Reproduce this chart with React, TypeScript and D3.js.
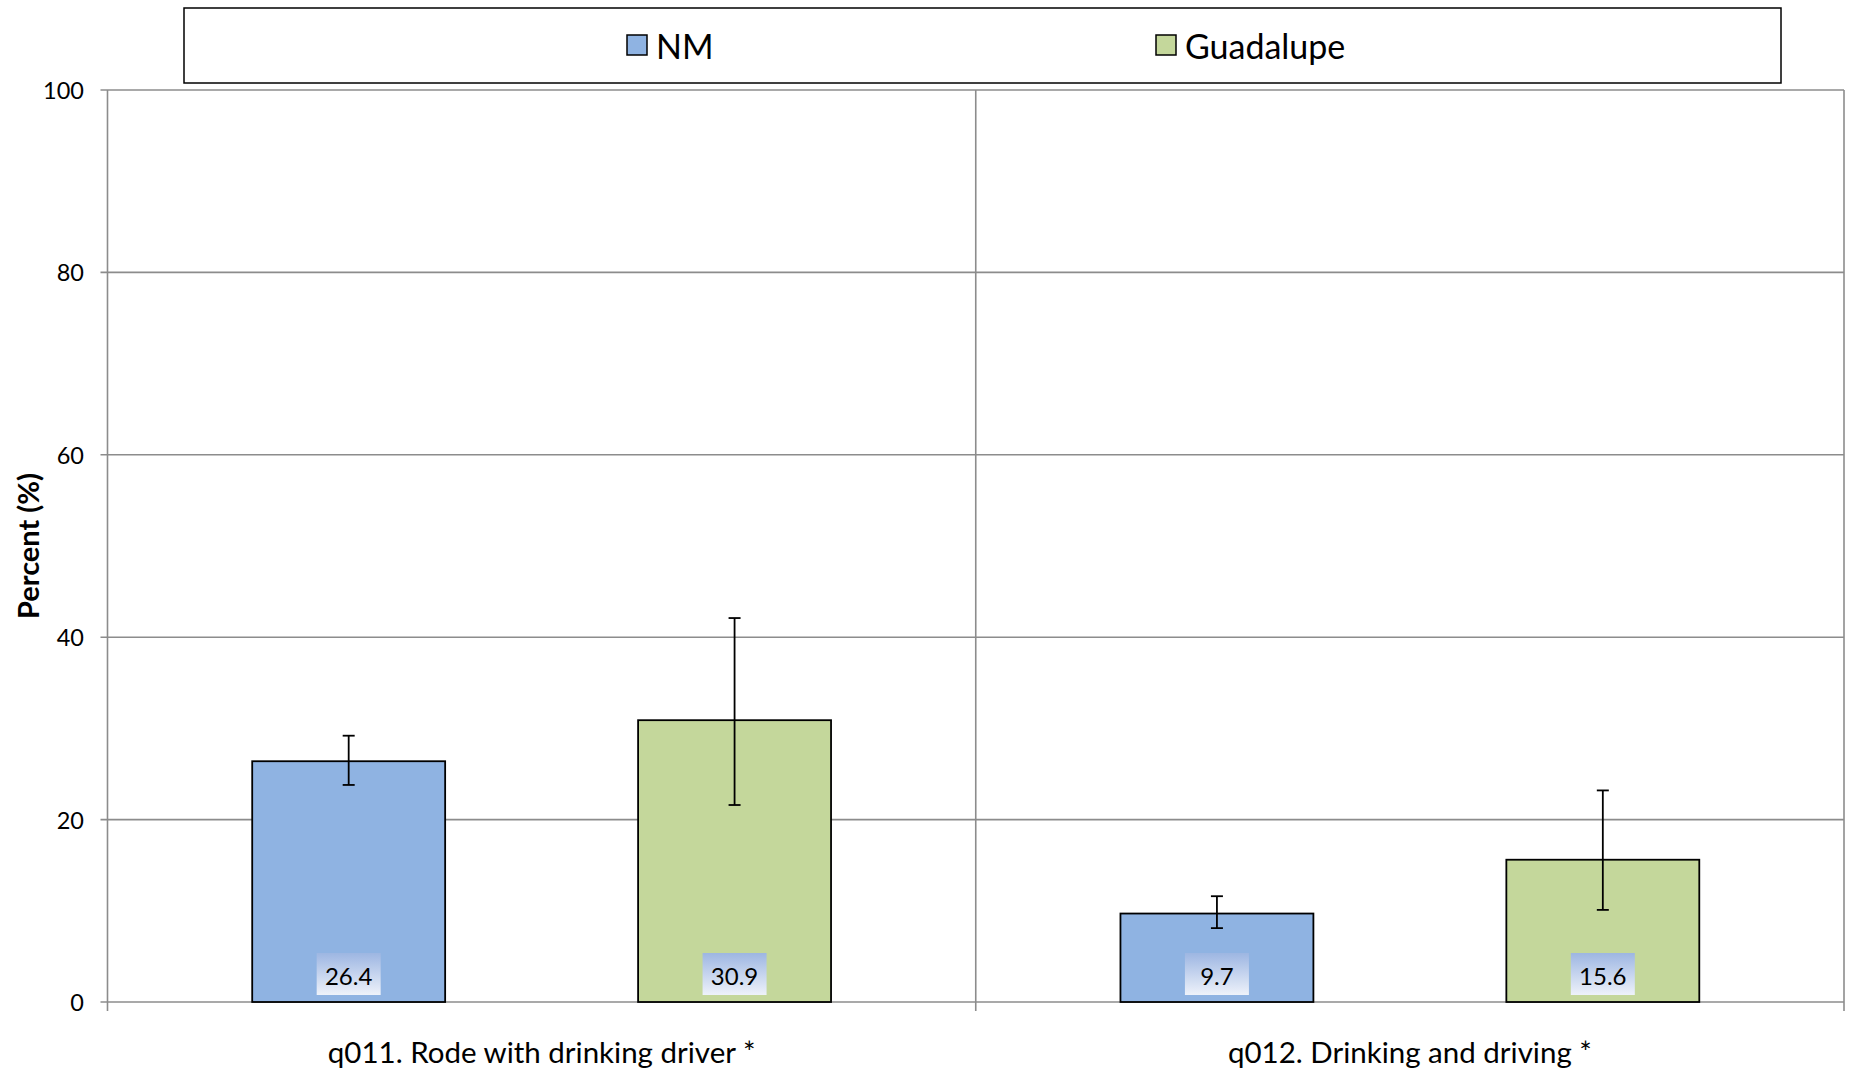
import React from "react";
import * as d3 from "d3";

const categories = ["q011. Rode with drinking driver *", "q012. Drinking and driving *"];
const seriesNames = ["NM", "Guadalupe"];
const seriesColors = ["#8FB3E2", "#C4D79B"];
const nmValues = [26.4, 9.7];
const guadValues = [30.9, 15.6];
const nmLow = [23.8, 8.1];
const nmHigh = [29.2, 11.6];
const guadLow = [21.6, 10.1];
const guadHigh = [42.1, 23.2];
const yTicks = [0, 20, 40, 60, 80, 100];

const W = 1851;
const H = 1072;
const FONT = "Lato, 'Open Sans', sans-serif";

export default function App() {
  const left = 107.5;
  const right = 1844;
  const top = 90;
  const bottom = 1002;

  const y = d3.scaleLinear().domain([0, 100]).range([bottom, top]);
  const x0 = d3.scaleBand<string>().domain(categories).range([left, right]).paddingInner(0).paddingOuter(0);
  const catW = x0.bandwidth();
  const barW = catW / 4.5;
  const x1 = d3
    .scaleBand<string>()
    .domain(seriesNames)
    .range([0.75 * barW, catW - 0.75 * barW])
    .paddingInner(0.5)
    .paddingOuter(0);

  const values = [nmValues, guadValues];
  const lows = [nmLow, guadLow];
  const highs = [nmHigh, guadHigh];

  const gridColor = "#8C8C8C";

  return (
    <svg width={W} height={H} style={{ position: "absolute", left: 0, top: 0, background: "#fff" }}>
      <defs>
        <linearGradient id="lblGrad" x1="0" y1="0" x2="0" y2="1">
          <stop offset="0" stopColor="#9DB6E2" />
          <stop offset="1" stopColor="#EEF2FA" />
        </linearGradient>
      </defs>
      {/* legend box */}
      <rect x={184} y={8} width={1597} height={75} fill="#fff" stroke="#000" strokeWidth={1.5} />
      {seriesNames.map((s, i) => {
        const lx = [627, 1156][i];
        return (
          <g key={s}>
            <rect x={lx} y={35} width={20} height={20} fill={seriesColors[i]} stroke="#000" strokeWidth={1.5} />
            <text x={lx + 29} y={45} dominantBaseline="central" fontFamily={FONT} fontSize={34} fill="#000">
              {s}
            </text>
          </g>
        );
      })}

      {/* gridlines */}
      {yTicks.map((t) => (
        <g key={t}>
          <line x1={left - 7} x2={right} y1={y(t)} y2={y(t)} stroke={gridColor} strokeWidth={1.6} />
          <text x={84} y={y(t)} textAnchor="end" dominantBaseline="central" fontFamily={FONT} fontSize={23.5} fill="#000">
            {t}
          </text>
        </g>
      ))}
      {/* vertical lines: left axis, separators, right border */}
      {[left, left + catW, right].map((vx, i) => (
        <line key={i} x1={vx} x2={vx} y1={top} y2={bottom + 9} stroke={gridColor} strokeWidth={1.6} />
      ))}

      {/* bars */}
      {categories.map((c, ci) => (
        <g key={c} transform={`translate(${x0(c)},0)`}>
          {seriesNames.map((s, si) => {
            const bx = x1(s)!;
            const bw = x1.bandwidth();
            const v = values[si][ci];
            const cx = bx + bw / 2;
            return (
              <g key={s}>
                <rect x={bx} y={y(v)} width={bw} height={y(0) - y(v)} fill={seriesColors[si]} stroke="#000" strokeWidth={1.8} />
                <line x1={cx} x2={cx} y1={y(highs[si][ci])} y2={y(lows[si][ci])} stroke="#000" strokeWidth={1.8} />
                <line x1={cx - 6} x2={cx + 6} y1={y(highs[si][ci])} y2={y(highs[si][ci])} stroke="#000" strokeWidth={1.8} />
                <line x1={cx - 6} x2={cx + 6} y1={y(lows[si][ci])} y2={y(lows[si][ci])} stroke="#000" strokeWidth={1.8} />
                <rect x={cx - 32} y={953} width={64} height={42} fill="url(#lblGrad)" />
                <text x={cx} y={975} textAnchor="middle" dominantBaseline="central" fontFamily={FONT} fontSize={24} fill="#000">
                  {v.toFixed(1)}
                </text>
              </g>
            );
          })}
          <text x={catW / 2} y={1051} textAnchor="middle" dominantBaseline="central" fontFamily={FONT} fontSize={29.5} fill="#000">
            {c}
          </text>
        </g>
      ))}

      {/* y axis title */}
      <text
        transform={`translate(27,${(top + bottom) / 2}) rotate(-90)`}
        textAnchor="middle"
        dominantBaseline="central"
        fontFamily={FONT}
        fontWeight="bold"
        fontSize={29}
        fill="#000"
      >
        Percent (%)
      </text>
    </svg>
  );
}
